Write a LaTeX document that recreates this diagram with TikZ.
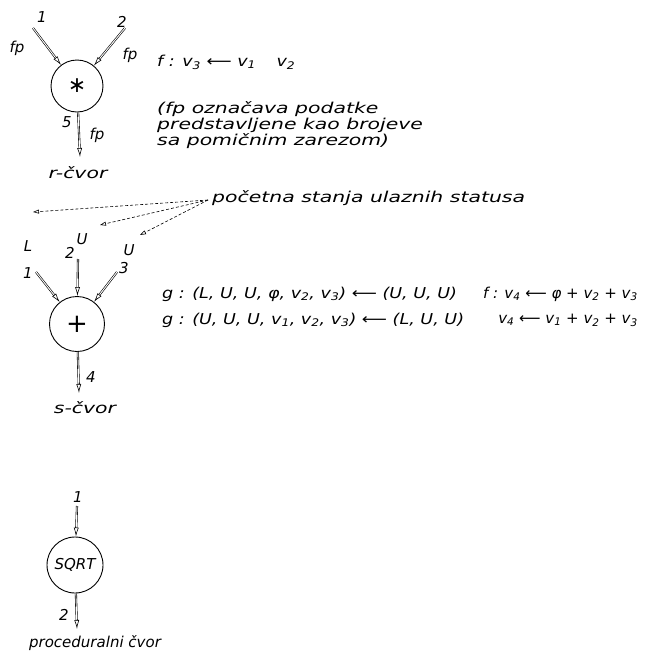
\documentclass[tikz,border=0pt]{standalone}
\usepackage{fontspec}
\setmainfont{DejaVu Sans}
\newfontfamily\handfont[FakeStretch=1.36]{DejaVu Sans}
\newfontfamily\eqnfont[FakeStretch=1.17]{DejaVu Sans}
\usetikzlibrary{arrows.meta,positioning}

\tikzset{
  opnode/.style={draw, circle, minimum size=52pt, inner sep=0pt, line width=0.9pt},
  link/.style={double, double distance=0.9pt, line width=0.6pt, -{Latex[open,length=9pt,width=5pt]}},
  hint/.style={densely dashed, line width=0.6pt, -{Triangle[open,length=6pt,width=4pt]}},
  txt/.style={font=\fontsize{15}{16}\selectfont\itshape, inner sep=0pt},
  word/.style={font=\fontsize{15}{16}\selectfont\handfont\itshape, inner sep=0pt},
  eqn/.style={font=\fontsize{15}{16}\selectfont\eqnfont\itshape, inner sep=0pt},
}

\begin{document}
\begin{tikzpicture}[x=1pt,y=-1pt]
  \useasboundingbox (0,0) rectangle (652,654);

  % r-node (multiply)
  \node[opnode] (rnode) at (77,86) {\fontsize{22}{22}\selectfont ∗};
  \coordinate (rin1) at (33,28);
  \coordinate (rin2) at (125,28);
  \coordinate (rout) at (80,157);
  \draw[link] (rin1) -- (rnode);
  \draw[link] (rin2) -- (rnode);
  \draw[link] (rnode) -- (rout);
  \node[txt] (rl1) at (42,17) {1};
  \node[txt] (rl2) at (122,22) {2};
  \node[txt] (rl5) at (67,122) {5};
  \foreach \n/\x/\y in {fpa/17/48, fpb/130/55, fpc/97/135} {
    \node[txt] (\n) at (\x,\y) {fp};
  }
  \node[word] (rname) at (78,173) {r-čvor};

  \node[eqn, anchor=west] (reqn) at (157,62) {f : v\textsubscript{3} ⟵ v\textsubscript{1}\quad\ v\textsubscript{2}};
  \node[word, anchor=north west, align=left] (note) at (157,101)
    {(fp označava podatke\\predstavljene kao brojeve\\sa pomičnim zarezom)};

  % s-node (sum)
  \node[opnode, minimum size=55pt] (snode) at (77,324) {\fontsize{26}{26}\selectfont +};
  \coordinate (sin1) at (36,272);
  \coordinate (sin2) at (78,259);
  \coordinate (sin3) at (117,272);
  \coordinate (sout) at (79,393);
  \foreach \i in {1,2,3} {
    \draw[link] (sin\i) -- (snode);
  }
  \draw[link] (snode) -- (sout);
  \node[txt] (sl1) at (28,273) {1};
  \node[txt] (sl2) at (70,253) {2};
  \node[txt] (sl3) at (124,268) {3};
  \node[txt] (sl4) at (91,377) {4};
  \node[txt] (stL) at (28,246) {L};
  \node[txt] (stU2) at (82,239) {U};
  \node[txt] (stU3) at (129,250) {U};
  \node[word] (sname) at (85,408) {s-čvor};

  % initial input states
  \node[word, anchor=west] (hinttxt) at (212,198) {početna stanja ulaznih statusa};
  \coordinate (hsrc) at (208,200);
  \coordinate (hL) at (33,212);
  \coordinate (hU2) at (100,225);
  \coordinate (hU3) at (140,235);
  \foreach \t in {hL,hU2,hU3} {
    \draw[hint] (hsrc) -- (\t);
  }

  \node[eqn, anchor=west] (geq1) at (162,294) {g : (L, U, U, φ, v\textsubscript{2}, v\textsubscript{3}) ⟵ (U, U, U)};
  \node[eqn, anchor=west] (geq2) at (162,320) {g : (U, U, U, v\textsubscript{1}, v\textsubscript{2}, v\textsubscript{3}) ⟵ (L, U, U)};
  \node[txt, anchor=east] (feq1) at (638,294) {f : v\textsubscript{4} ⟵ φ + v\textsubscript{2} + v\textsubscript{3}};
  \node[txt, anchor=east] (feq2) at (638,320) {v\textsubscript{4} ⟵ v\textsubscript{1} + v\textsubscript{2} + v\textsubscript{3}};

  % procedural node
  \node[opnode, minimum size=56pt] (pnode) at (75,565) {\fontsize{15}{15}\selectfont\itshape SQRT};
  \coordinate (pin) at (77,506);
  \coordinate (pout) at (77,629);
  \draw[link] (pin) -- (pnode);
  \draw[link] (pnode) -- (pout);
  \node[txt] (pl1) at (78,497) {1};
  \node[txt] (pl2) at (64,615) {2};
  \node[txt] (pname) at (95,643) {proceduralni čvor};
\end{tikzpicture}
\end{document}
